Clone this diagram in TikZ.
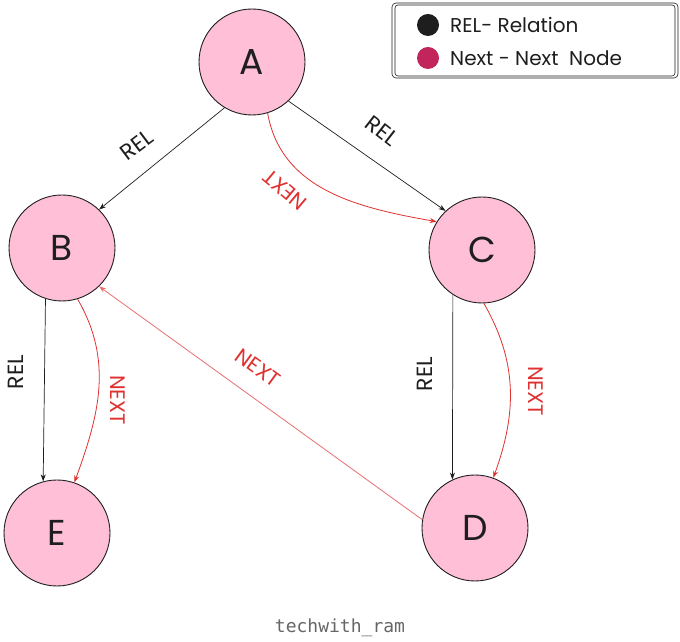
\documentclass[tikz,border=0pt]{standalone}
\usepackage{fontspec}
\setmainfont{Poppins}
\newfontfamily\markfont{DejaVu Sans Mono}
\usetikzlibrary{arrows.meta}
\definecolor{nodepink}{HTML}{FFC0D7}
\definecolor{inkdark}{HTML}{1E1E1E}
\definecolor{nextred}{HTML}{E03131}
\definecolor{dotred}{HTML}{C2255C}
\definecolor{markgray}{HTML}{666666}
\tikzset{
  vertex/.style={circle, draw=inkdark, line width=0.9pt, fill=nodepink, minimum size=106pt, inner sep=0pt, text=inkdark, font=\fontsize{36}{42}\selectfont},
  relline/.style={->, draw=inkdark, line width=0.7pt},
  nextline/.style={->, draw=nextred, line width=0.8pt},
  rellabel/.style={text=inkdark, inner sep=1pt, font=\fontsize{22}{26}\selectfont},
  nextlabel/.style={text=nextred, inner sep=1pt, font=\fontsize{21}{25}\selectfont},
  legdot/.style={circle, inner sep=0pt, minimum size=22pt},
  legtext/.style={anchor=west, inner sep=0pt, text=inkdark, font=\fontsize{20}{24}\selectfont}
}
\begin{document}
\begin{tikzpicture}[x=1pt,y=1pt,>={Stealth[length=7pt,width=5pt]}]
\useasboundingbox (0,0) rectangle (680,642);
\fill[white] (0,0) rectangle (680,642);

% nodes
\node[vertex] (A) at (252,580) {A};
\node[vertex] (B) at (62,394) {B};
\node[vertex] (C) at (482,392) {C};
\node[vertex] (E) at (57,109) {E};
\node[vertex] (D) at (475,114) {D};

% REL links
\draw[relline] (A.239) -- (B.46);
\draw[relline] (A.313) -- (C.133);
\draw[relline] (B.252) -- (E.105);
\draw[relline] (C.237) -- (D.115);

% NEXT links
\draw[nextline] (A.287) to[out=-80,in=170] (C.148);
\draw[nextline] (B.287) to[out=-60,in=70] (E.71);
\draw[nextline] (C.272) to[out=-60,in=70] (D.70);
\draw[nextline, draw=nextred!70] (D.171) -- (B.314);

% edge labels
\node[rellabel, rotate=37] (relAB) at (137,497) {REL};
\node[rellabel, rotate=-38] (relAC) at (382,511) {REL};
\node[rellabel, rotate=90] (relBE) at (16,270) {REL};
\node[rellabel, rotate=90] (relCD) at (425,268) {REL};
\node[nextlabel, rotate=140] (nextAC) at (285,452) {NEXT};
\node[nextlabel, rotate=-90] (nextBE) at (118,242) {NEXT};
\node[nextlabel, rotate=-90] (nextCD) at (536,251) {NEXT};
\node[nextlabel, rotate=-36] (nextDB) at (258,274) {NEXT};

% legend
\draw[inkdark, line width=0.6pt, rounded corners=4pt] (392,564) rectangle (678,639);
\draw[inkdark, line width=0.6pt, rounded corners=3pt] (395,566) rectangle (675,637);
\node[legdot, fill=inkdark] (reldot) at (428,617) {};
\node[legdot, fill=dotred] (nextdot) at (428,584) {};
\node[legtext] (reltext) at (450,617) {REL- Relation};
\node[legtext] (nexttext) at (450,584) {Next - Next~ Node};

% watermark
\node[text=markgray, font=\markfont\fontsize{18}{22}\selectfont] (mark) at (340,14) {techwith\_ram};
\end{tikzpicture}
\end{document}
